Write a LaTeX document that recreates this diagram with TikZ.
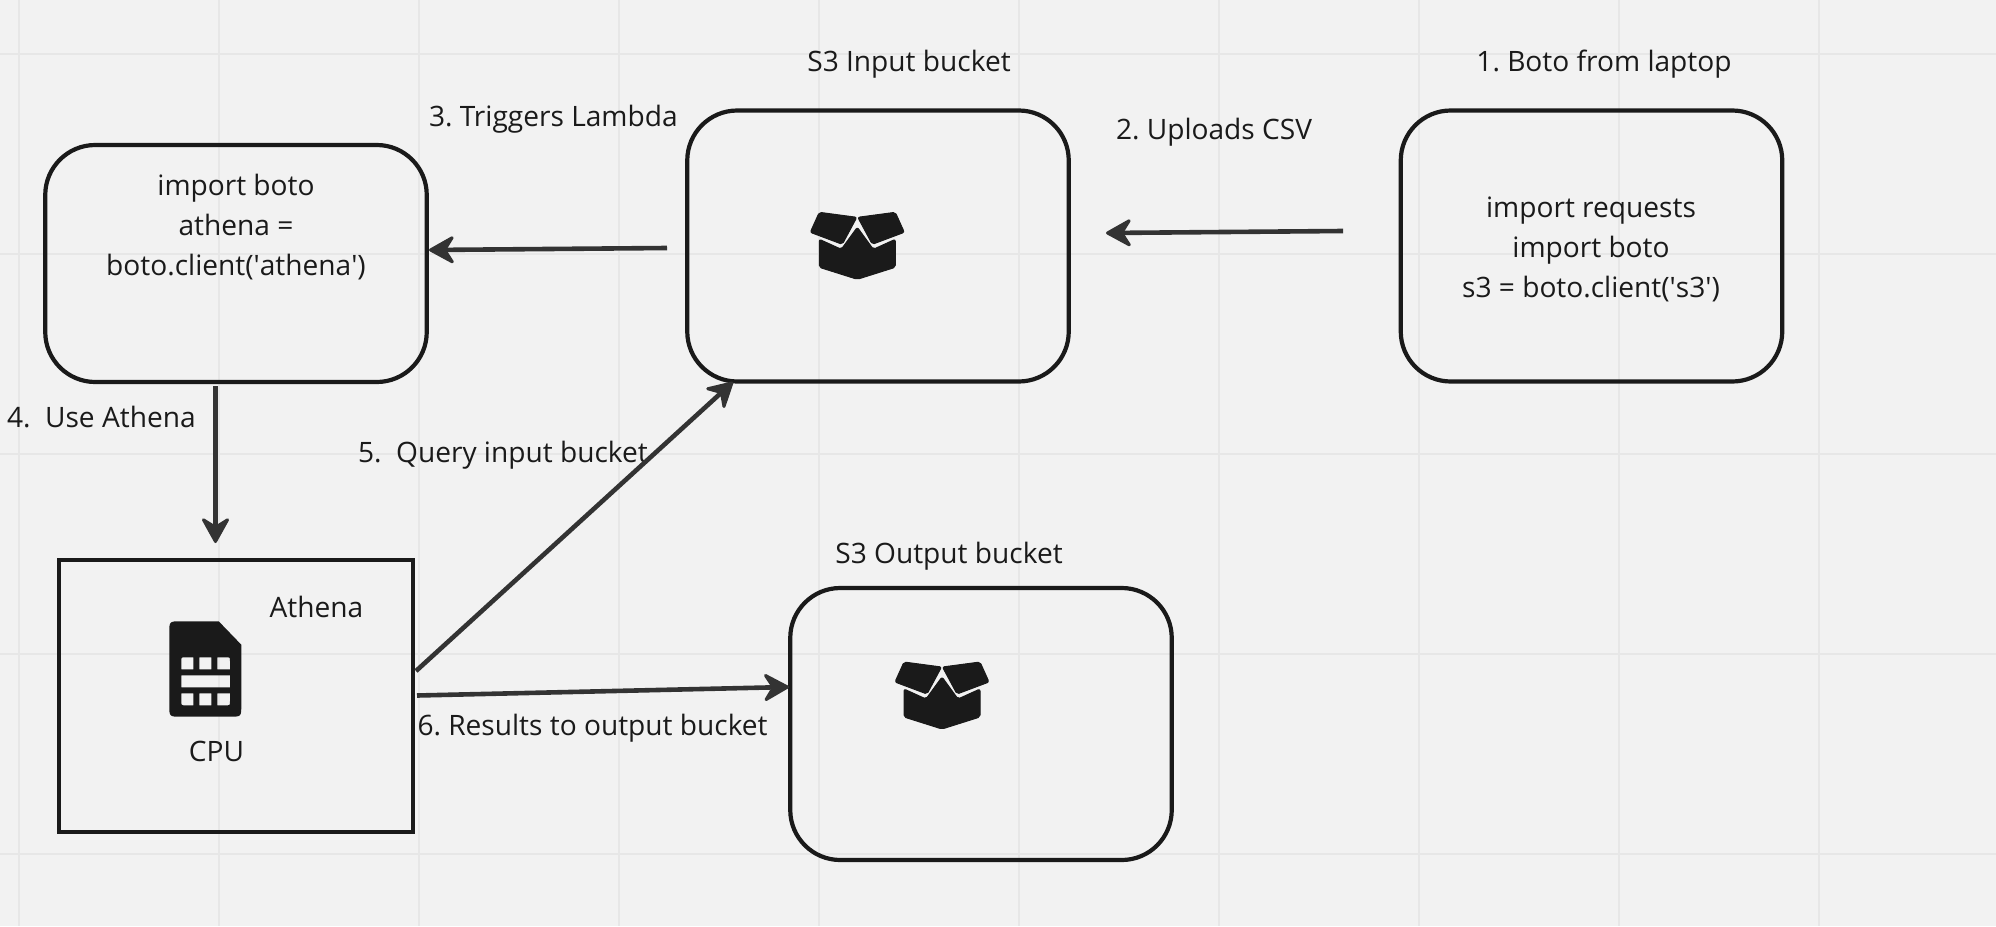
\documentclass[tikz,border=0pt]{standalone}
\usepackage{fontspec}
\setmainfont{Open Sans}
\usetikzlibrary{arrows.meta}
\definecolor{bgc}{HTML}{F2F2F2}
\definecolor{gridc}{HTML}{E7E7E7}
\definecolor{inkc}{HTML}{1A1A1A}
\definecolor{arrc}{HTML}{333333}
\tikzset{
  card/.style={draw=inkc,line width=4.2pt,rounded corners=50pt,minimum width=381.5pt,inner sep=0pt,outer sep=0pt},
  plainbox/.style={draw=inkc,line width=3.8pt,minimum width=354.5pt,minimum height=272.5pt,inner sep=0pt,outer sep=0pt},
  lbl/.style={text=inkc,inner sep=0pt,outer sep=0pt,font=\frenchspacing\fontsize{28.1}{40}\selectfont},
  code/.style={lbl,align=center},
  flow/.style={draw=arrc,line width=4.6pt,-{Stealth[length=29pt,width=32pt,inset=10pt,round,line width=3pt]}},
  gridline/.style={draw=gridc,line width=2.4pt},
  icon/.style={fill=inkc,draw=inkc,line width=1pt,line join=round,rounded corners=2pt},
  pics/boxicon/.style={code={
    \path[icon] (-38,-5) -- (-0.5,0) -- (-15,27) -- (-47,15) -- cycle;
    \path[icon] (38,-5) -- (0.5,0) -- (15,27) -- (47,15) -- cycle;
    \path[icon] (-38,22) -- (-16,32) -- (0,10) -- (16,32) -- (38,22) -- (38,50) -- (0,62) -- (-38,50) -- cycle;
  }}
}
\begin{document}
\begin{tikzpicture}[x=1pt,y=-1pt]
\useasboundingbox (0,0) rectangle (1996,926);
\fill[bgc] (0,0) rectangle (1996,926);
\foreach \gx in {19,219,419,619,819,1019,1219,1419,1619,1819}
  \draw[gridline] (\gx,0) -- (\gx,926);
\foreach \gy in {54,254,454,654,854}
  \draw[gridline] (0,\gy) -- (1996,\gy);

\node[card,minimum height=237pt] (lambda) at (236,263.5) {};
\node[card,minimum height=271pt] (input) at (878,246) {};
\node[card,minimum height=271pt] (boto) at (1591.5,246) {};
\node[card,minimum height=272pt] (output) at (981,724) {};
\node[plainbox] (athena) at (236,696) {};

\node[code] (lambdatext) at (236,227) {import boto\\athena =\\boto.client(\textquotesingle athena\textquotesingle)};
\node[code] (bototext) at (1591,249) {import requests\\import boto\\s3 = boto.client(\textquotesingle s3\textquotesingle)};

\node[lbl,anchor=base] (t1) at (909,71) {S3 Input bucket};
\node[lbl,anchor=base] (t2) at (1604,71) {1. Boto from laptop};
\node[lbl,anchor=base west] (t3) at (429,126) {3. Triggers Lambda};
\node[lbl,anchor=base west] (t4) at (1116,139) {2. Uploads CSV};
\node[lbl,anchor=base west] (t5) at (7,427) {4.\ \ Use Athena};
\node[lbl,anchor=base west] (t6) at (358,462) {5.\ \ Query input bucket};
\node[lbl,anchor=base] (t7) at (949,563) {S3 Output bucket};
\node[lbl,anchor=base] (t8) at (316.5,617) {Athena};
\node[lbl,anchor=base] (t9) at (216.5,761) {CPU};
\node[lbl,anchor=base west] (t10) at (417.5,735) {6. Results to output bucket};

\coordinate (a1) at (1343,231);
\coordinate (a2) at (1106,233);
\coordinate (b1) at (667,248);
\coordinate (b2) at (429,250);
\coordinate (c1) at (215.5,386);
\coordinate (c2) at (215.5,543);
\coordinate (d1) at (416,671);
\coordinate (d2) at (733,382);
\coordinate (e1) at (417,695.5);
\coordinate (e2) at (789,687);
\draw[flow] (a1) -- (a2);
\draw[flow] (b1) -- (b2);
\draw[flow] (c1) -- (c2);
\draw[flow] (d1) -- (d2);
\draw[flow] (e1) -- (e2);

\pic at (857.3,217.3) {boxicon};
\pic at (942,667) {boxicon};

% SIM card icon
\fill[inkc,even odd rule]
  (169.3,633) .. controls (169.3,621.3) .. (181,621.3) -- (218.7,621.3) -- (241.3,644.7)
    -- (241.3,705) .. controls (241.3,716.7) .. (229.6,716.7) -- (181,716.7) .. controls (169.3,716.7) .. (169.3,705) -- cycle
  (181.3,675.3) rectangle (230,687.3)
  (199.3,657.3) rectangle (211.3,669.3)
  (199.3,693.3) rectangle (211.3,705.3)
  (181.3,669.3) -- (181.3,661.3) .. controls (181.3,657.3) .. (185.3,657.3) -- (193.3,657.3) -- (193.3,669.3) -- cycle
  (217.3,669.3) -- (217.3,657.3) -- (226,657.3) .. controls (230,657.3) .. (230,661.3) -- (230,669.3) -- cycle
  (181.3,693.3) -- (193.3,693.3) -- (193.3,705.3) -- (185.3,705.3) .. controls (181.3,705.3) .. (181.3,701.3) -- cycle
  (217.3,693.3) -- (230,693.3) -- (230,701.3) .. controls (230,705.3) .. (226,705.3) -- (217.3,705.3) -- cycle;
\end{tikzpicture}
\end{document}
